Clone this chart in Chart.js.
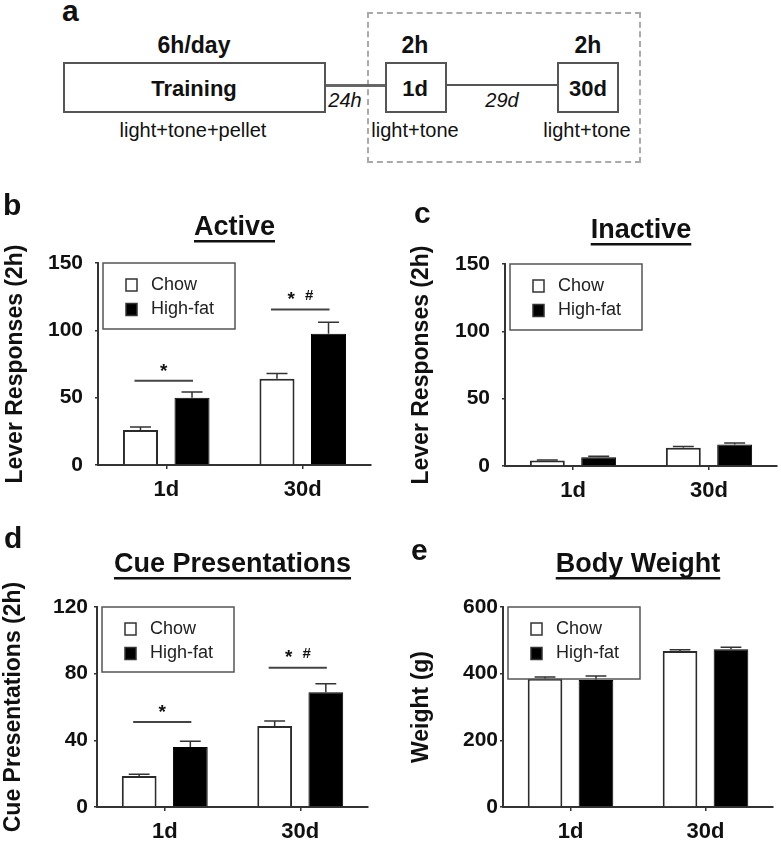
<!DOCTYPE html>
<html>
<head>
<meta charset="utf-8">
<script src="https://cdn.jsdelivr.net/npm/chart.js@4.4.1/dist/chart.umd.min.js"></script>
<style>
  html, body { margin: 0; padding: 0; background: #fff; }
  #fig { position: relative; width: 781px; height: 842px; overflow: hidden; font-family: "Liberation Sans", Arial, sans-serif; color: #111; }
  #fig canvas { position: absolute; }
  .t { position: absolute; line-height: 1; white-space: nowrap; transform: translate(-50%, -50%); }
  .letter { position: absolute; line-height: 1; font-weight: bold; font-size: 30px; }
  .box { position: absolute; box-sizing: border-box; border: 2px solid #555; background: #fff; }
  .wire { position: absolute; background: #666; }
  .b { font-weight: bold; }
</style>
</head>
<body>
<div id="fig">
  <!-- panel a: protocol schematic -->
  <div style="position:absolute;left:367px;top:12px;width:274px;height:151px;box-sizing:border-box;border:2px dashed #aaa;"></div>
  <div class="wire" style="left:325px;top:84px;width:61px;height:3px;"></div>
  <div class="wire" style="left:446px;top:84px;width:112px;height:2px;background:#555;"></div>
  <div class="box" style="left:63px;top:62px;width:263px;height:51px;"></div>
  <div class="box" style="left:385px;top:62px;width:62px;height:51px;"></div>
  <div class="box" style="left:557px;top:62px;width:62px;height:51px;"></div>

  <div class="letter" style="left:62px;top:-4px;">a</div>
  <div class="t b" style="left:194px;top:45px;font-size:23px;">6h/day</div>
  <div class="t b" style="left:194px;top:89px;font-size:22px;">Training</div>
  <div class="t" style="left:193px;top:130px;font-size:20px;">light+tone+pellet</div>
  <div class="t" style="left:345px;top:100px;font-size:20px;font-style:italic;">24h</div>
  <div class="t b" style="left:415px;top:45px;font-size:23px;">2h</div>
  <div class="t b" style="left:415px;top:89px;font-size:22px;">1d</div>
  <div class="t" style="left:415px;top:130px;font-size:20px;">light+tone</div>
  <div class="t" style="left:502px;top:100px;font-size:20px;font-style:italic;">29d</div>
  <div class="t b" style="left:588px;top:45px;font-size:23px;">2h</div>
  <div class="t b" style="left:588px;top:89px;font-size:22px;">30d</div>
  <div class="t" style="left:587px;top:130px;font-size:20px;">light+tone</div>

  <canvas id="chart-b" width="390" height="340" style="left:0;top:170px;"></canvas>
  <canvas id="chart-c" width="391" height="340" style="left:390px;top:170px;"></canvas>
  <canvas id="chart-d" width="390" height="332" style="left:0;top:510px;"></canvas>
  <canvas id="chart-e" width="391" height="332" style="left:390px;top:510px;"></canvas>

  <div class="letter" style="left:3px;top:190px;">b</div>
  <div class="letter" style="left:414px;top:198px;">c</div>
  <div class="letter" style="left:4px;top:523px;">d</div>
  <div class="letter" style="left:411px;top:535px;">e</div>
</div>

<script>
const FONT = "'Liberation Sans', Arial, sans-serif";

const categories = ["1d", "30d"];
const seriesNames = ["Chow", "High-fat"];

// b - active lever
const activeChow = [26, 64];
const activeChowErr = [2.2, 4];
const activeHighFat = [50, 97.5];
const activeHighFatErr = [4.2, 8.5];
const activeSigLevels = [62.5, 115.5];
const activeSigMarks = [["*"], ["*", "#"]];
const activeTicks = [0, 50, 100, 150];

// c - inactive lever
const inactiveChow = [4, 13.5];
const inactiveChowErr = [0.5, 1];
const inactiveHighFat = [6.5, 16];
const inactiveHighFatErr = [0.8, 1];

// d - cue presentations
const cueChow = [18.6, 48.6];
const cueChowErr = [1, 3];
const cueHighFat = [36, 68.8];
const cueHighFatErr = [3.4, 5.2];
const cueSigLevels = [51, 83.6];
const cueSigMarks = [["*"], ["*", "#"]];
const cueTicks = [0, 40, 80, 120];

// e - body weight
const weightChow = [385, 468];
const weightChowErr = [5, 4];
const weightHighFat = [381, 473];
const weightHighFatErr = [12, 6];
const weightTicks = [0, 200, 400, 600];

Chart.defaults.font.family = FONT;
Chart.defaults.color = "#111";

// underlined panel title above the plot area
const panelTitle = {
  id: "panelTitle",
  afterDraw(chart, args, opts) {
    const { ctx, chartArea } = chart;
    const x = (chartArea.left + chartArea.right) / 2;
    const y = chartArea.top - opts.gap;
    ctx.save();
    ctx.font = "bold 27px " + FONT;
    ctx.fillStyle = "#111";
    ctx.textAlign = "center";
    ctx.textBaseline = "alphabetic";
    ctx.fillText(opts.text, x, y);
    const w = ctx.measureText(opts.text).width;
    ctx.fillRect(x - w / 2, y + 5, w, 2.5);
    ctx.restore();
  }
};

// SEM caps, upward only
const errorBars = {
  id: "errorBars",
  afterDatasetsDraw(chart) {
    const { ctx } = chart;
    const yScale = chart.scales.y;
    ctx.save();
    ctx.strokeStyle = "#333";
    ctx.lineWidth = 1.5;
    chart.data.datasets.forEach((ds, i) => {
      chart.getDatasetMeta(i).data.forEach((bar, j) => {
        const top = yScale.getPixelForValue(ds.data[j] + ds.errors[j]);
        const half = bar.width * 0.3;
        ctx.beginPath();
        ctx.moveTo(bar.x, bar.y);
        ctx.lineTo(bar.x, top);
        ctx.moveTo(bar.x - half, top);
        ctx.lineTo(bar.x + half, top);
        ctx.stroke();
      });
    });
    ctx.restore();
  }
};

// significance lines with * and #
const sigBars = {
  id: "sigBars",
  afterDatasetsDraw(chart, args, opts) {
    if (!opts.levels) return;
    const { ctx } = chart;
    const yScale = chart.scales.y;
    const first = chart.getDatasetMeta(0).data;
    const second = chart.getDatasetMeta(1).data;
    ctx.save();
    opts.levels.forEach((level, j) => {
      const y = yScale.getPixelForValue(level);
      const x0 = first[j].x - 6;
      const x1 = second[j].x + 1;
      ctx.strokeStyle = "#444";
      ctx.lineWidth = 2;
      ctx.beginPath();
      ctx.moveTo(x0, y);
      ctx.lineTo(x1, y);
      ctx.stroke();

      const marks = opts.marks[j];
      const mid = (x0 + x1) / 2;
      ctx.fillStyle = "#111";
      ctx.textAlign = "center";
      ctx.textBaseline = "middle";
      marks.forEach((m, k) => {
        const dx = marks.length > 1 ? (k === 0 ? -9 : 9) : 0;
        const dy = m === "#" ? 14 : 9.5;
        ctx.font = (m === "#" ? "bold 15px " : "bold 19px ") + FONT;
        ctx.fillText(m, mid + dx, y - dy);
      });
    });
    ctx.restore();
  }
};

// boxed legend in the top-left corner of the plot
const boxLegend = {
  id: "boxLegend",
  afterDraw(chart, args, opts) {
    const { ctx, chartArea } = chart;
    const left = chartArea.left + 5;
    const top = chartArea.top;
    ctx.save();
    ctx.strokeStyle = "#555";
    ctx.lineWidth = 1.5;
    ctx.strokeRect(left, top, 132, opts.height);
    chart.data.datasets.forEach((ds, i) => {
      const cy = top + 22 + i * 24.5;
      ctx.fillStyle = ds.backgroundColor;
      ctx.fillRect(left + 23, cy - 6, 11, 12);
      ctx.strokeStyle = "#333";
      ctx.strokeRect(left + 23, cy - 6, 11, 12);
      ctx.fillStyle = "#222";
      ctx.font = "18px " + FONT;
      ctx.textAlign = "left";
      ctx.textBaseline = "middle";
      ctx.fillText(ds.label, left + 48, cy);
    });
    ctx.restore();
  }
};

function buildPanel(canvasId, p) {
  const ctx = document.getElementById(canvasId).getContext("2d");
  return new Chart(ctx, {
    type: "bar",
    data: {
      labels: categories,
      datasets: [
        {
          label: seriesNames[0],
          data: p.chow,
          errors: p.chowErr,
          backgroundColor: "#fff",
          borderColor: "#2b2b2b",
          borderWidth: 2,
          categoryPercentage: 0.755,
          barPercentage: 0.68,
        },
        {
          label: seriesNames[1],
          data: p.highFat,
          errors: p.highFatErr,
          backgroundColor: "#000",
          borderColor: "#000",
          borderWidth: 1,
          categoryPercentage: 0.755,
          barPercentage: 0.68,
        },
      ],
    },
    options: {
      responsive: false,
      animation: false,
      events: [],
      layout: { padding: { left: 0, top: p.top, right: p.right, bottom: 0 } },
      scales: {
        x: {
          afterFit: s => { s.height = p.xHeight; },
          grid: { drawOnChartArea: false, offset: false, tickLength: 4, color: "#333", lineWidth: 1.5 },
          border: { color: "#333", width: 2 },
          ticks: { font: { size: 22, weight: "bold" }, color: "#111", padding: 8 },
        },
        y: {
          min: p.ticks[0],
          max: p.ticks[p.ticks.length - 1],
          afterFit: s => { s.width = p.yWidth; },
          afterBuildTicks: s => { s.ticks = p.ticks.map(v => ({ value: v })); },
          grid: { drawOnChartArea: false, tickLength: 3, color: "#333", lineWidth: 1.5 },
          border: { color: "#333", width: 2 },
          ticks: { font: { size: 21, weight: "bold" }, color: "#111", padding: p.tickPad },
          title: {
            display: true,
            text: p.yTitle,
            font: { size: 23, weight: "bold" },
            color: "#111",
            padding: { top: p.titlePad, bottom: 0 },
          },
        },
      },
      plugins: {
        legend: { display: false },
        tooltip: { enabled: false },
        panelTitle: { text: p.title, gap: p.titleGap },
        boxLegend: { height: p.legendHeight },
        sigBars: { levels: p.sigLevels, marks: p.sigMarks },
      },
    },
    plugins: [errorBars, sigBars, panelTitle, boxLegend],
  });
}

buildPanel("chart-b", {
  chow: activeChow, chowErr: activeChowErr,
  highFat: activeHighFat, highFatErr: activeHighFatErr,
  sigLevels: activeSigLevels, sigMarks: activeSigMarks,
  ticks: activeTicks, title: "Active", yTitle: "Lever Responses (2h)",
  top: 93, right: 19, xHeight: 45, yWidth: 98, tickPad: 12, titlePad: 2, titleGap: 28, legendHeight: 66,
});

buildPanel("chart-c", {
  chow: inactiveChow, chowErr: inactiveChowErr,
  highFat: inactiveHighFat, highFatErr: inactiveHighFatErr,
  ticks: activeTicks, title: "Inactive", yTitle: "Lever Responses (2h)",
  top: 94, right: 4, xHeight: 44, yWidth: 115, tickPad: 12, titlePad: 18, titleGap: 26, legendHeight: 66,
});

buildPanel("chart-d", {
  chow: cueChow, chowErr: cueChowErr,
  highFat: cueHighFat, highFatErr: cueHighFatErr,
  sigLevels: cueSigLevels, sigMarks: cueSigMarks,
  ticks: cueTicks, title: "Cue Presentations", yTitle: "Cue Presentations (2h)",
  top: 97, right: 22, xHeight: 35, yWidth: 97, tickPad: 6, titlePad: 0, titleGap: 35, legendHeight: 65,
});

buildPanel("chart-e", {
  chow: weightChow, chowErr: weightChowErr,
  highFat: weightHighFat, highFatErr: weightHighFatErr,
  ticks: weightTicks, title: "Body Weight", yTitle: "Weight (g)",
  top: 97, right: 8, xHeight: 35, yWidth: 113, tickPad: 2, titlePad: 18, titleGap: 35, legendHeight: 72,
});
</script>
</body>
</html>
